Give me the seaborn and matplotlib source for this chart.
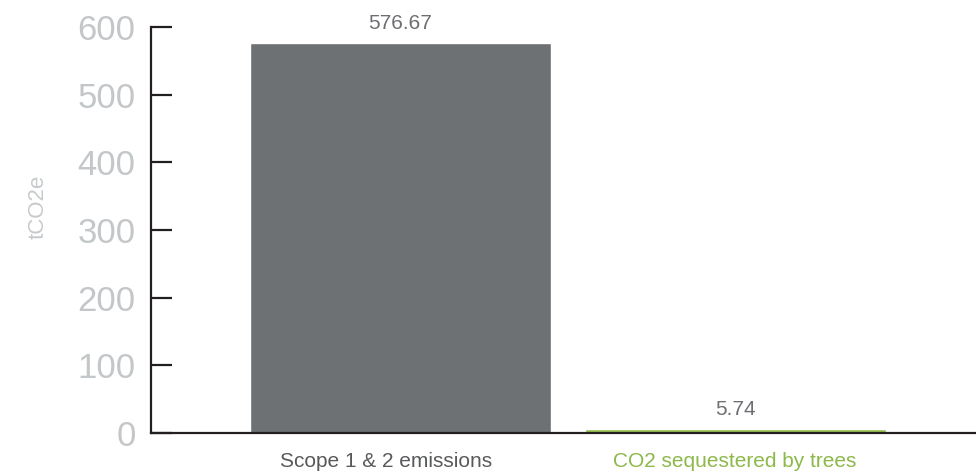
import pandas as pd
import seaborn as sns
import matplotlib.pyplot as plt
from matplotlib.transforms import ScaledTranslation

categories = ['Scope 1 & 2 emissions', 'CO2 sequestered by trees']
values = [576.67, 5.74]
bar_colors = ['#6d7174', '#97bf4c']
label_colors = ['#58595b', '#8db84a']

df = pd.DataFrame({'category': categories, 'tco2e': values})

sns.set_style('white')
plt.rcParams['font.family'] = ['Liberation Sans', 'DejaVu Sans']

fig = plt.figure(figsize=(9.76, 4.72), dpi=100)
ax = fig.add_axes([0.1547, 0.0826, 0.8453, 0.8602])

sns.barplot(data=df, x='category', y='tco2e', hue='category',
            palette=bar_colors, width=0.9, legend=False, ax=ax,
            saturation=1)

ax.set_ylim(0, 600)
ax.set_xlim(-0.746, 1.72)
ax.set_yticks(range(0, 601, 100))

for i, v in enumerate(values):
    ax.annotate(f'{v:.2f}', (i, v), xytext=(0, 7), textcoords='offset points',
                ha='center', va='bottom', fontsize=15, color='#6d6f72')

sns.despine(ax=ax, top=True, right=True)
for side in ['left', 'bottom']:
    ax.spines[side].set_color('#231f20')
    ax.spines[side].set_linewidth(1.6)

ax.tick_params(axis='y', direction='in', length=15, width=1.6, color='#231f20',
               labelsize=25, labelcolor='#c4c7c9', pad=11, left=True)
ax.tick_params(axis='x', length=0, labelsize=15, pad=14)
xlabels = ax.get_xticklabels()
for lbl, c in zip(xlabels, label_colors):
    lbl.set_color(c)
# first category label sits a bit left of its bar in the original
xlabels[0].set_transform(xlabels[0].get_transform()
                         + ScaledTranslation(-0.15, 0, fig.dpi_scale_trans))

ax.set_xlabel('')
ax.set_ylabel('tCO2e', fontsize=16, color='#c7cacc')
ax.yaxis.set_label_coords(-0.124, 0.557)

fig.savefig('out.png', dpi=100)
